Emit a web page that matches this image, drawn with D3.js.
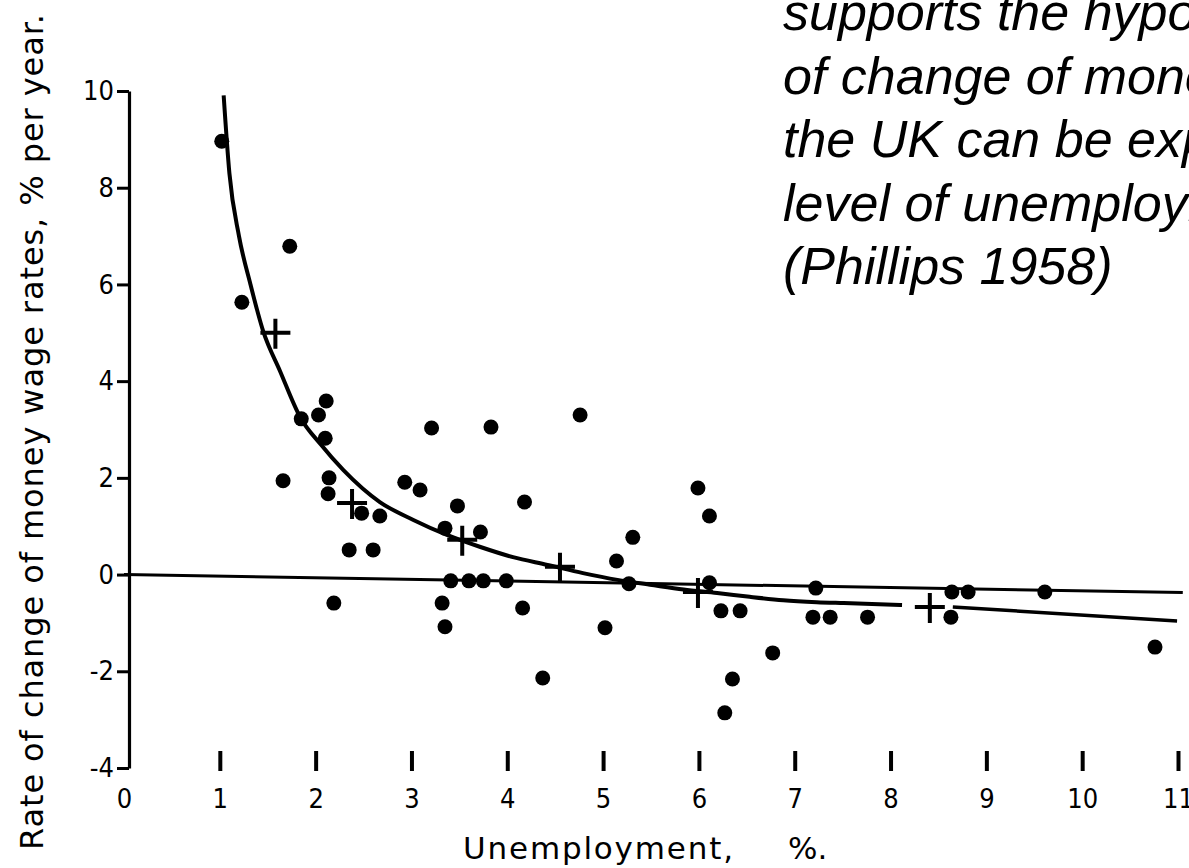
<!DOCTYPE html>
<html>
<head>
<meta charset="utf-8">
<script src="https://cdn.jsdelivr.net/npm/d3@7"></script>
<style>
  html, body { margin: 0; padding: 0; background: #fff; }
  svg { display: block; }
</style>
</head>
<body>
<div id="chart"></div>
<script>
// ---- data ----
const xTicks = [0, 1, 2, 3, 4, 5, 6, 7, 8, 9, 10, 11];
const yTicks = [-4, -2, 0, 2, 4, 6, 8, 10];

// annual observations: unemployment %, rate of change of money wage rates %
const obsX = [1.02, 1.23, 1.73, 1.85, 2.03, 2.11, 2.10, 1.66, 2.14, 2.13, 2.19, 2.35, 2.48, 2.60, 2.67,
  2.93, 3.09, 3.21, 3.32, 3.35, 3.35, 3.48, 3.72, 3.41, 3.60, 3.75, 3.99, 3.83, 4.18, 4.16, 4.37,
  4.76, 5.99, 6.11, 5.31, 5.14, 5.27, 6.11, 6.23, 6.43, 5.02, 6.77, 6.35, 6.27, 7.22, 7.19, 7.37,
  7.76, 8.64, 8.81, 8.63, 9.61, 10.76];
const obsY = [8.96, 5.63, 6.79, 3.22, 3.30, 3.59, 2.82, 1.94, 2.00, 1.67, -0.59, 0.51, 1.27, 0.51, 1.21,
  1.91, 1.75, 3.03, -0.59, -1.08, 0.96, 1.42, 0.88, -0.13, -0.13, -0.13, -0.13, 3.05, 1.50, -0.69, -2.14,
  3.30, 1.79, 1.21, 0.77, 0.28, -0.19, -0.17, -0.75, -0.75, -1.10, -1.62, -2.16, -2.86, -0.28, -0.88, -0.88,
  -0.88, -0.36, -0.36, -0.88, -0.36, -1.50];

// group averages (crosses)
const avgX = [1.58, 2.38, 3.53, 4.55, 5.99, 8.41];
const avgY = [5.00, 1.48, 0.72, 0.16, -0.36, -0.67];

// fitted curve, main part and tail
const curveX = [1.04, 1.10, 1.20, 1.32, 1.45, 1.63, 1.84, 2.05, 2.29, 2.67, 3.02, 3.37, 3.72, 4.06, 4.42, 4.79,
  5.15, 5.49, 5.84, 6.19, 6.53, 6.88, 7.23, 7.51, 8.12];
const curveY = [9.91, 8.30, 7.00, 6.00, 5.05, 4.20, 3.25, 2.70, 2.16, 1.50, 1.13, 0.82, 0.57, 0.36, 0.20, 0.03,
  -0.11, -0.21, -0.31, -0.38, -0.46, -0.53, -0.57, -0.59, -0.63];
const tailX = [8.65, 10.99];
const tailY = [-0.67, -0.96];

// zero reference line (slightly tilted in the scan)
const zeroX = [0, 11.05];
const zeroY = [0, -0.37];

const yTitle = "Rate of change of money wage rates, % per year.";
const xTitle1 = "Unemployment,";
const xTitle2 = "%.";
const noteLines = [
  "supports the hypothesis",
  "of change of money",
  "the UK can be explained",
  "level of unemployment",
  "(Phillips 1958)"
];

// ---- drawing ----
const W = 1189, H = 868;
const svg = d3.select("#chart").append("svg")
  .attr("width", W).attr("height", H)
  .attr("viewBox", `0 0 ${W} ${H}`)
  .style("background", "#fff");

const x = d3.scaleLinear().domain([0, 11]).range([124, 1178]);
const y = d3.scaleLinear().domain([-4, 10]).range([768, 91]);

const tickFont = "'DejaVu Sans', 'Noto Sans', sans-serif";

// y axis
const yAxis = svg.append("g")
  .attr("transform", `translate(${x(0) + 5},0)`)
  .call(d3.axisLeft(y).tickValues(yTicks).tickSize(12).tickSizeOuter(0).tickPadding(3)
    .tickFormat(d => d < 0 ? "-" + Math.abs(d) : String(d)));
yAxis.select(".domain").attr("stroke", "#000").attr("stroke-width", 3.2);
yAxis.selectAll(".tick line").attr("stroke", "#000").attr("stroke-width", 3);
yAxis.selectAll(".tick text").attr("fill", "#000")
  .style("font-family", tickFont).style("font-stretch", "condensed").style("font-size", "27px");

// x axis (separate small tick bars, no axis line)
const xAxis = svg.append("g")
  .attr("transform", `translate(0,751)`)
  .call(d3.axisBottom(x).tickValues(xTicks).tickSize(20).tickPadding(18).tickFormat(d3.format("d")));
xAxis.select(".domain").remove();
xAxis.selectAll(".tick line").attr("stroke", "#000").attr("stroke-width", 4)
  .attr("display", d => d === 0 ? "none" : null);
xAxis.selectAll(".tick text").attr("fill", "#000")
  .style("font-family", tickFont).style("font-stretch", "condensed").style("font-size", "27px");

// zero line
const line = d3.line().x(d => x(d[0])).y(d => y(d[1]));
svg.append("path")
  .datum(d3.zip(zeroX, zeroY))
  .attr("d", line)
  .attr("fill", "none").attr("stroke", "#000").attr("stroke-width", 3);

// fitted curve
const smooth = d3.line().x(d => x(d[0])).y(d => y(d[1])).curve(d3.curveMonotoneX);
svg.append("path")
  .datum(d3.zip(curveX, curveY))
  .attr("d", smooth)
  .attr("fill", "none").attr("stroke", "#000").attr("stroke-width", 4);
svg.append("path")
  .datum(d3.zip(tailX, tailY))
  .attr("d", line)
  .attr("fill", "none").attr("stroke", "#000").attr("stroke-width", 3.5);

// observations
svg.append("g").selectAll("circle")
  .data(d3.zip(obsX, obsY))
  .join("circle")
  .attr("cx", d => x(d[0])).attr("cy", d => y(d[1]))
  .attr("r", 7.5).attr("fill", "#000");

// averages as crosses
svg.append("g").selectAll("path")
  .data(d3.zip(avgX, avgY))
  .join("path")
  .attr("d", d => {
    const cx = x(d[0]), cy = y(d[1]);
    return `M${cx - 15},${cy}H${cx + 15}M${cx},${cy - 14}V${cy + 16}`;
  })
  .attr("fill", "none").attr("stroke", "#000").attr("stroke-width", 4);

// axis titles
svg.append("text")
  .attr("transform", `translate(43,850) rotate(-90)`)
  .attr("textLength", 836).attr("lengthAdjust", "spacing")
  .style("font-family", tickFont).style("font-size", "32px")
  .attr("fill", "#000")
  .text(yTitle);

svg.append("text")
  .attr("x", 463).attr("y", 859)
  .attr("textLength", 270).attr("lengthAdjust", "spacing")
  .style("font-family", tickFont).style("font-size", "31px")
  .attr("fill", "#000")
  .text(xTitle1);
svg.append("text")
  .attr("x", 788).attr("y", 859)
  .style("font-family", tickFont).style("font-size", "31px")
  .attr("fill", "#000")
  .text(xTitle2);

// overlaid note (cut off by the page edge as in the slide)
svg.append("g").selectAll("text")
  .data(noteLines)
  .join("text")
  .attr("x", 783)
  .attr("y", (d, i) => 30 + i * 63.6)
  .style("font-family", "'Liberation Sans', Arial, sans-serif")
  .style("font-style", "italic")
  .style("font-size", "52px")
  .attr("fill", "#000")
  .text(d => d);
</script>
</body>
</html>
